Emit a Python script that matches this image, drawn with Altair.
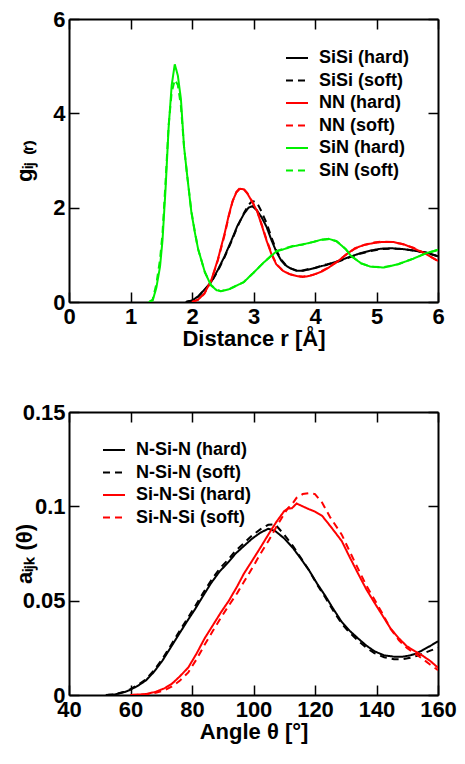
import altair as alt
import pandas as pd

FONT = "Liberation Sans"

# ---------------- top panel: g_ij(r) ----------------
top_names = ["SiSi (hard)", "SiSi (soft)", "NN (hard)", "NN (soft)", "SiN (hard)", "SiN (soft)"]
top_colors = ["#000000", "#000000", "#ff0000", "#ff0000", "#00f000", "#00f000"]
top_dashed = [False, True, False, True, False, True]

sisi_r = [1.90, 2.00, 2.10, 2.20, 2.31, 2.42, 2.53, 2.64, 2.74, 2.85, 2.92, 2.98, 3.05, 3.13, 3.21, 3.29,
          3.37, 3.45, 3.52, 3.59, 3.70, 3.80, 3.90, 4.00, 4.10, 4.20, 4.38, 4.55, 4.75, 4.90, 5.07, 5.25,
          5.44, 5.60, 5.81, 6.00]
sisi_hard = [0.00, 0.03, 0.12, 0.26, 0.42, 0.68, 0.97, 1.30, 1.62, 1.88, 2.00, 2.03, 1.95, 1.80, 1.60, 1.32,
             1.07, 0.88, 0.78, 0.72, 0.66, 0.66, 0.69, 0.72, 0.76, 0.79, 0.87, 0.95, 1.04, 1.09, 1.13, 1.14,
             1.12, 1.09, 1.05, 0.97]
sisi_soft = [0.00, 0.03, 0.11, 0.25, 0.41, 0.66, 0.95, 1.28, 1.60, 1.90, 2.06, 2.14, 2.12, 1.92, 1.68, 1.38,
             1.10, 0.90, 0.79, 0.72, 0.67, 0.67, 0.70, 0.72, 0.77, 0.80, 0.86, 0.94, 1.03, 1.08, 1.12, 1.13,
             1.12, 1.09, 1.04, 0.97]

nn_r = [2.00, 2.10, 2.20, 2.31, 2.42, 2.53, 2.60, 2.66, 2.72, 2.78, 2.84, 2.90, 2.98, 3.06, 3.14, 3.21,
        3.29, 3.37, 3.48, 3.59, 3.70, 3.80, 3.90, 4.00, 4.10, 4.20, 4.38, 4.50, 4.65, 4.80, 4.95, 5.07,
        5.28, 5.45, 5.60, 5.80, 6.00]
nn_hard = [0.00, 0.05, 0.18, 0.45, 0.90, 1.45, 1.85, 2.14, 2.32, 2.40, 2.39, 2.30, 2.12, 1.92, 1.60, 1.31,
           1.02, 0.80, 0.66, 0.59, 0.55, 0.53, 0.55, 0.59, 0.64, 0.71, 0.87, 1.00, 1.14, 1.21, 1.25, 1.27,
           1.27, 1.22, 1.14, 1.02, 0.87]
nn_soft = [0.00, 0.05, 0.17, 0.44, 0.88, 1.42, 1.83, 2.13, 2.33, 2.42, 2.40, 2.31, 2.13, 1.93, 1.62, 1.33,
           1.04, 0.81, 0.66, 0.59, 0.55, 0.54, 0.55, 0.59, 0.65, 0.72, 0.87, 1.00, 1.13, 1.21, 1.26, 1.28,
           1.27, 1.22, 1.15, 1.02, 0.87]

sin_r = [1.30, 1.36, 1.42, 1.48, 1.52, 1.57, 1.62, 1.67, 1.72, 1.77, 1.82, 1.87, 1.92, 1.99, 2.05, 2.10,
         2.21, 2.31, 2.40, 2.47, 2.60, 2.84, 3.00, 3.16, 3.37, 3.64, 3.80, 3.96, 4.10, 4.22, 4.35, 4.50,
         4.59, 4.75, 4.90, 5.12, 5.35, 5.60, 5.80, 6.00]
sin_hard = [0.00, 0.03, 0.30, 0.75, 1.30, 2.40, 3.70, 4.60, 5.04, 4.80, 4.30, 3.30, 2.70, 1.90, 1.45, 1.12,
            0.63, 0.35, 0.25, 0.23, 0.27, 0.42, 0.62, 0.83, 1.07, 1.18, 1.22, 1.27, 1.32, 1.34, 1.29, 1.12,
            0.97, 0.82, 0.75, 0.73, 0.80, 0.92, 1.03, 1.11]
sin_soft = [0.00, 0.05, 0.38, 0.90, 1.45, 2.55, 3.75, 4.45, 4.71, 4.60, 4.15, 3.30, 2.70, 1.92, 1.46, 1.12,
            0.63, 0.36, 0.26, 0.23, 0.27, 0.42, 0.62, 0.83, 1.08, 1.19, 1.22, 1.27, 1.32, 1.33, 1.29, 1.12,
            0.98, 0.82, 0.75, 0.74, 0.80, 0.92, 1.03, 1.10]

# ---------------- bottom panel: a_ijk(theta) ----------------
bot_names = ["N-Si-N (hard)", "N-Si-N (soft)", "Si-N-Si (hard)", "Si-N-Si (soft)"]
bot_colors = ["#000000", "#000000", "#ff0000", "#ff0000"]
bot_dashed = [False, True, False, True]

nsin_t = [52, 55, 58, 60, 62.5, 65, 67.5, 70.3, 73, 75.6, 78.3, 81, 83.6, 86.2, 89, 91.6, 94.2, 96.9,
          99.5, 102.2, 104.8, 107, 110, 112.8, 115.5, 118.1, 120.7, 123.4, 126, 128.7, 131.3, 134,
          136.7, 139.3, 142.5, 145.7, 148.5, 151, 153, 155.2, 157.5, 160]
nsin_hard = [0.0, 0.0003, 0.0015, 0.0028, 0.005, 0.0077, 0.012, 0.018, 0.025, 0.0318, 0.0388, 0.0455,
             0.0525, 0.0593, 0.0655, 0.070, 0.075, 0.079, 0.0828, 0.086, 0.0881, 0.087, 0.083, 0.078,
             0.072, 0.066, 0.059, 0.0524, 0.0455, 0.0387, 0.034, 0.030, 0.0262, 0.0232, 0.021, 0.0203,
             0.0203, 0.021, 0.022, 0.024, 0.026, 0.0285]
nsin_soft = [0.0, 0.0004, 0.0017, 0.0031, 0.0055, 0.0083, 0.0128, 0.019, 0.026, 0.033, 0.040, 0.047,
             0.054, 0.0607, 0.067, 0.0715, 0.0765, 0.0805, 0.0845, 0.0878, 0.0902, 0.0905, 0.085, 0.079,
             0.0725, 0.066, 0.0585, 0.0515, 0.0445, 0.0378, 0.033, 0.0288, 0.025, 0.0222, 0.020, 0.019,
             0.019, 0.0197, 0.0207, 0.022, 0.0235, 0.025]

sins_t = [60, 65, 68.2, 71, 73.5, 76, 78.8, 81.5, 84.1, 86.8, 89.4, 92, 94.7, 96.9, 99.5, 102.2, 105,
          107.5, 110, 111.2, 112.5, 114, 116, 118, 120, 122.3, 125, 128.7, 131.3, 134, 136.7, 139.3,
          142, 144.6, 147.3, 149.9, 152.5, 155.2, 157.5, 160]
sins_hard = [0.0, 0.0005, 0.0017, 0.0035, 0.006, 0.0098, 0.0146, 0.022, 0.030, 0.037, 0.0438, 0.050,
             0.0576, 0.0644, 0.071, 0.078, 0.0855, 0.0919, 0.0975, 0.0988, 0.0990, 0.1015, 0.1000, 0.0985,
             0.0972, 0.0950, 0.0895, 0.0816, 0.073, 0.0644, 0.056, 0.049, 0.042, 0.0352, 0.030, 0.0258,
             0.0232, 0.0206, 0.018, 0.0145]
sins_soft = [0.0, 0.0003, 0.0012, 0.0025, 0.0045, 0.0075, 0.012, 0.019, 0.0266, 0.034, 0.041, 0.0475,
             0.054, 0.060, 0.067, 0.0747, 0.082, 0.0893, 0.096, 0.099, 0.101, 0.1045, 0.1065, 0.107,
             0.1065, 0.102, 0.094, 0.085, 0.076, 0.067, 0.058, 0.0507, 0.043, 0.035, 0.029, 0.0249,
             0.022, 0.0189, 0.016, 0.0132]

top_x_ticks = [0, 1, 2, 3, 4, 5, 6]
top_y_ticks = [0, 2, 4, 6]
bot_x_ticks = [40, 60, 80, 100, 120, 140, 160]
bot_y_ticks = [0, 0.05, 0.1, 0.15]


def long_df(names, xs, ys):
    rows = []
    for n, xv, yv in zip(names, xs, ys):
        for a, b in zip(xv, yv):
            rows.append({"series": n, "x": a, "y": b})
    return pd.DataFrame(rows)


top_df = long_df(top_names,
                 [sisi_r, sisi_r, nn_r, nn_r, sin_r, sin_r],
                 [sisi_hard, sisi_soft, nn_hard, nn_soft, sin_hard, sin_soft])
bot_df = long_df(bot_names,
                 [nsin_t, nsin_t, sins_t, sins_t],
                 [nsin_hard, nsin_soft, sins_hard, sins_soft])

W, H = 369, 283
INWARD = alt.ExprRef(expr="-10")
LABEL_EXPR = "format(datum.value, '~r')"


def axis_common(**kw):
    base = dict(domain=True, domainColor="black", domainWidth=2, tickColor="black",
                tickWidth=1.5, grid=False, labelFlush=False, labelOverlap=False, minExtent=0)
    base.update(kw)
    return alt.Axis(**base)


def panel(df, names, colors, dashed, xdom, ydom, xticks, yticks, xtitle, ytitle, legx, legy):
    dashes = [[7, 5] if d else [1, 0] for d in dashed]
    legend = alt.Legend(title=None, orient="none", legendX=legx, legendY=legy,
                        symbolType="stroke", symbolSize=484, symbolStrokeWidth=2,
                        labelFont=FONT, labelFontSize=18, labelFontWeight="bold",
                        labelColor="black", rowPadding=1.5, labelOffset=10, padding=0,
                        labelLimit=300)
    xscale = alt.Scale(domain=xdom, nice=False, zero=False)
    yscale = alt.Scale(domain=ydom, nice=False, zero=False)
    main = alt.Chart(df).mark_line(strokeWidth=2, clip=True).encode(
        x=alt.X("x:Q", scale=xscale,
                axis=axis_common(orient="bottom", values=xticks, labelExpr=LABEL_EXPR, title=xtitle,
                                 tickSize=INWARD, labelPadding=14,
                                 labelFont=FONT, labelFontSize=22, labelFontWeight="bold",
                                 labelColor="black", titleFont=FONT, titleFontSize=22,
                                 titleFontWeight="bold", titleColor="black", titlePadding=1)),
        y=alt.Y("y:Q", scale=yscale,
                axis=axis_common(orient="left", values=yticks, labelExpr=LABEL_EXPR, title=ytitle,
                                 tickSize=INWARD, labelPadding=14,
                                 labelFont=FONT, labelFontSize=22, labelFontWeight="bold",
                                 labelColor="black", titleFont=FONT, titleFontSize=22,
                                 titleFontWeight="bold", titleColor="black",
                                 titleAngle=270, titleX=-33, titleY=H / 2,
                                 titleAlign="center", titleBaseline="bottom")),
        color=alt.Color("series:N", scale=alt.Scale(domain=names, range=colors), legend=legend),
        strokeDash=alt.StrokeDash("series:N", scale=alt.Scale(domain=names, range=dashes),
                                  legend=legend),
    )
    mirror = alt.Chart(df).mark_line(strokeOpacity=0).encode(
        x=alt.X("x:Q", scale=xscale,
                axis=axis_common(orient="top", values=xticks, labels=False, title=None,
                                 tickSize=INWARD)),
        y=alt.Y("y:Q", scale=yscale,
                axis=axis_common(orient="right", values=yticks, labels=False, title=None,
                                 tickSize=INWARD)),
        detail="series:N",
    )
    return alt.layer(main, mirror).resolve_axis(x="independent", y="independent").properties(
        width=W, height=H)


top = panel(top_df, top_names, top_colors, top_dashed, [0, 6], [0, 6], top_x_ticks, top_y_ticks,
            "Distance r [Å]", "gᵢⱼ ₍ᵣ₎", 216, 27)
bottom = panel(bot_df, bot_names, bot_colors, bot_dashed, [40, 160], [0, 0.15], bot_x_ticks,
               bot_y_ticks, "Angle θ [°]", "aᵢⱼₖ (θ)", 33, 26)

chart = alt.vconcat(top, bottom, spacing=110, bounds="flush").resolve_scale(
    color="independent", strokeDash="independent", x="independent", y="independent"
).properties(
    padding={"left": 5, "top": 0, "right": 0, "bottom": 3},
    background="white",
).configure_view(stroke=None)

chart.save("out.html", embed_options={"renderer": "svg", "actions": False})
